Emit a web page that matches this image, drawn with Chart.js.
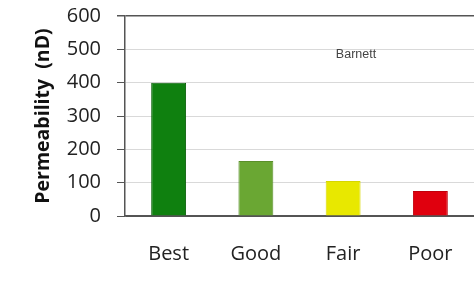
<!DOCTYPE html>
<html>
<head>
<meta charset="utf-8">
<script src="https://cdn.jsdelivr.net/npm/chart.js@4.4.0/dist/chart.umd.min.js"></script>
<style>
  body { margin: 0; background: #fff; }
  .wrap { width: 474px; height: 284px; position: relative; }
</style>
</head>
<body>
<div class="wrap"><canvas class="permeability"></canvas></div>
<script>
// ////// data ////////
const categories = ['Best', 'Good', 'Fair', 'Poor'];
const permeability = [400, 165, 105, 75];
const barColors = ['#0f800f', '#6aa733', '#e8e800', '#e0000e'];
const barBorders = ['#0a600a', '#5a8f2a', '#d6d600', '#c0000b'];
const yTicks = [0, 100, 200, 300, 400, 500, 600];
const noteText = 'Barnett';

////// small label inside the plot //////
const notePlugin = {
    id: 'note',
    afterDraw(chart) {
        const ctx = chart.ctx;
        const area = chart.chartArea;
        ctx.save();
        ctx.font = '12.5px "Liberation Sans", Arial, sans-serif';
        ctx.fillStyle = '#444';
        ctx.textAlign = 'center';
        ctx.textBaseline = 'middle';
        ctx.fillText(noteText, area.left + 231, area.top + 39);
        ctx.restore();
    }
};

const data = {
    labels: categories,
    datasets: [{
        label: 'Permeability',
        data: permeability,
        backgroundColor: barColors,
        borderColor: barBorders,
        borderWidth: 1,
        categoryPercentage: 1,
        barPercentage: 0.4,
    }]
};

const config = {
    type: 'bar',
    data: data,
    plugins: [notePlugin],
    options: {
        responsive: true,
        maintainAspectRatio: false,
        animation: false,
        layout: { padding: { top: 16, right: 0, left: 0, bottom: 0 } },
        plugins: {
            legend: { display: false },
            tooltip: { enabled: false },
        },
        scales: {
            x: {
                grid: { display: false, drawTicks: false },
                border: { display: true, color: '#555', width: 1.5 },
                ticks: {
                    padding: 26,
                    color: '#222',
                    font: { family: '"Open Sans", sans-serif', size: 20 },
                },
                afterFit: function(scale) {
                    scale.height = 68;
                    scale.paddingLeft = 0;
                    scale.paddingRight = 0;
                },
            },
            y: {
                min: 0,
                max: 600,
                afterBuildTicks: function(scale) {
                    scale.ticks = yTicks.map(v => ({ value: v }));
                },
                grid: {
                    color: function(ctx) {
                        if (ctx.tick && (ctx.tick.value === 600 || ctx.tick.value === 0)) return '#555';
                        return '#d9d9d9';
                    },
                    lineWidth: function(ctx) {
                        if (ctx.tick && ctx.tick.value === 600) return 1.5;
                        return 1;
                    },
                    tickColor: '#555',
                    tickLength: 8,
                },
                border: { display: true, color: '#555', width: 1.5 },
                ticks: {
                    padding: 16,
                    color: '#222',
                    font: { family: '"Open Sans", sans-serif', size: 20 },
                },
                title: {
                    display: true,
                    text: 'Permeability\u00a0\u00a0(nD)',
                    color: '#111',
                    padding: { top: 32, bottom: 0 },
                    font: { family: '"Open Sans", sans-serif', size: 19.5, weight: 'bold' },
                },
                afterFit: function(scale) {
                    scale.width = 125;
                    scale.paddingTop = 0;
                    scale.paddingBottom = 0;
                },
            }
        },
    },
};

var myChart = new Chart(
    document.querySelector('.permeability'),
    config,
);
</script>
</body>
</html>
